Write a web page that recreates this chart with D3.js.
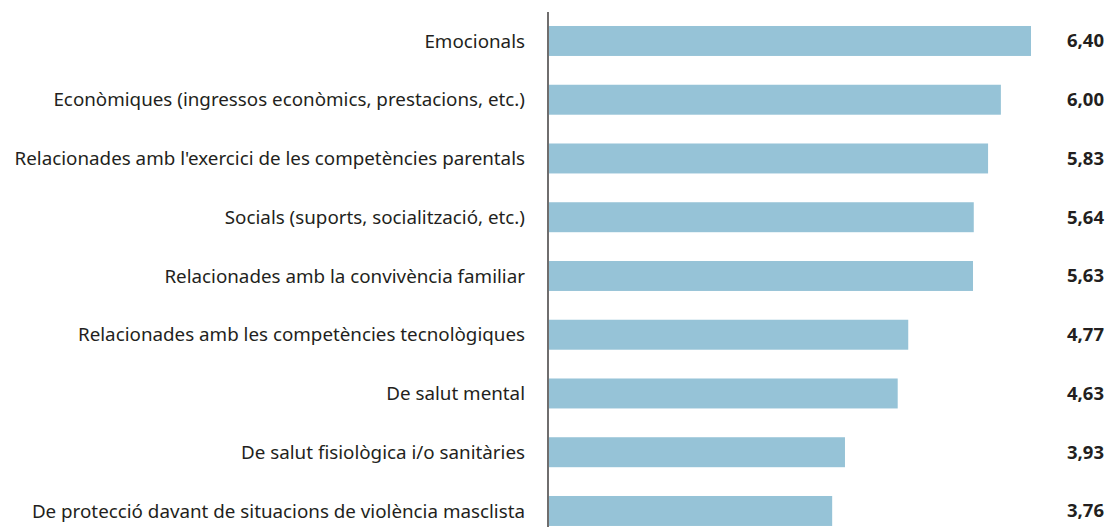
<!DOCTYPE html>
<html>
<head>
<meta charset="utf-8">
<script src="https://cdn.jsdelivr.net/npm/d3@7"></script>
<style>
  html, body { margin: 0; padding: 0; background: #fff; }
  svg text { font-family: "Myriad Pro", "Noto Sans", sans-serif; fill: #231f20; }
</style>
</head>
<body>
<div id="chart"></div>
<script>
// categories, top to bottom
const categories = [
  "Emocionals",
  "Econòmiques (ingressos econòmics, prestacions, etc.)",
  "Relacionades amb l'exercici de les competències parentals",
  "Socials (suports, socialització, etc.)",
  "Relacionades amb la convivència familiar",
  "Relacionades amb les competències tecnològiques",
  "De salut mental",
  "De salut fisiològica i/o sanitàries",
  "De protecció davant de situacions de violència masclista"
];
const values = [6.40, 6.00, 5.83, 5.64, 5.63, 4.77, 4.63, 3.93, 3.76];
const valueLabels = ["6,40", "6,00", "5,83", "5,64", "5,63", "4,77", "4,63", "3,93", "3,76"];

const width = 1109, height = 527;
const axisX = 548;

const svg = d3.select('#chart')
  .append('svg')
    .attr('width', width)
    .attr('height', height);

const x = d3.scaleLinear()
  .domain([0, 6.4])
  .range([axisX + 1, 1031]);

const y = d3.scaleBand()
  .domain(categories)
  .range([11.6, 11.6 + 9 * 58.75])
  .paddingInner(0.49)
  .paddingOuter(0.245);

const rows = categories.map((c, i) => ({cat: c, v: values[i], lab: valueLabels[i]}));

svg.selectAll('.bar')
  .data(rows)
  .enter()
  .append('rect')
    .attr('class', 'bar')
    .attr('x', x(0))
    .attr('y', d => y(d.cat))
    .attr('width', d => x(d.v) - x(0))
    .attr('height', y.bandwidth())
    .attr('fill', '#96c3d7');

svg.selectAll('.cat')
  .data(rows)
  .enter()
  .append('text')
    .attr('class', 'cat')
    .attr('x', 525)
    .attr('y', d => y(d.cat) + y.bandwidth() / 2)
    .attr('dy', '0.35em')
    .attr('text-anchor', 'end')
    .style('font-size', '18.8px')
    .text(d => d.cat);

svg.selectAll('.val')
  .data(rows)
  .enter()
  .append('text')
    .attr('class', 'val')
    .attr('x', 1104)
    .attr('y', d => y(d.cat) + y.bandwidth() / 2)
    .attr('dy', '0.35em')
    .attr('text-anchor', 'end')
    .style('font-size', '18.5px')
    .style('font-weight', 'bold')
    .text(d => d.lab);

// vertical axis line
svg.append('line')
  .attr('x1', axisX).attr('x2', axisX)
  .attr('y1', 12).attr('y2', height)
  .attr('stroke', '#231f20')
  .attr('stroke-width', 1.3);
</script>
</body>
</html>
